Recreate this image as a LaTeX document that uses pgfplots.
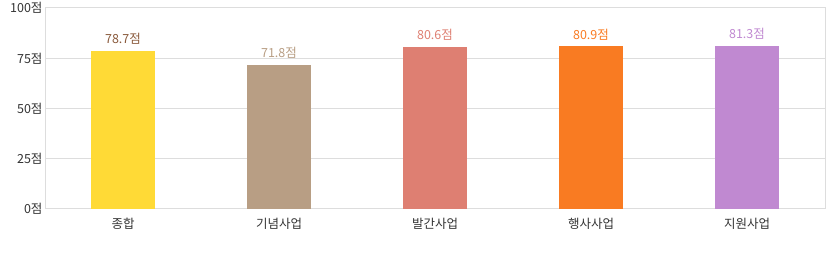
\documentclass[border=0pt]{standalone}
\usepackage{pgfplots}
\pgfplotsset{compat=1.18}
\usepackage{fontspec}
\setmainfont{Noto Sans CJK KR}
\definecolor{gridc}{HTML}{DDDDDD}
\definecolor{txt}{HTML}{333333}
\definecolor{c1}{HTML}{FFDA36}
\definecolor{l1}{HTML}{8A5A3C}
\definecolor{c2}{HTML}{B89E84}
\definecolor{c3}{HTML}{DE7F72}
\definecolor{c4}{HTML}{F97B22}
\definecolor{c5}{HTML}{C089D1}
\begin{document}
\begin{tikzpicture}[x=1pt,y=1pt]
\useasboundingbox (0,0) rectangle (830,272);
\begin{axis}[
  at={(45pt,63pt)}, anchor=south west,
  scale only axis, width=780pt, height=201pt,
  xmin=-0.5, xmax=4.5, ymin=0, ymax=100,
  ytick={0,25,50,75,100},
  yticklabel={\pgfmathprintnumber{\tick}점},
  xtick={0,1,2,3,4},
  xticklabels={종합,기념사업,발간사업,행사사업,지원사업},
  tick style={draw=none},
  axis line style={draw=gridc, line width=1pt},
  ymajorgrids, grid style={draw=gridc, line width=1pt},
  ticklabel style={text=txt, font=\fontsize{12.5}{14}\selectfont},
  yticklabel style={xshift=1pt},
  xticklabel style={yshift=-1pt},
  /pgf/number format/assume math mode=true,
  ybar, bar width=64pt, bar shift=0pt,
  nodes near coords={\pgfmathprintnumber[fixed,precision=1,fixed zerofill]{\pgfplotspointmeta}점},
  nodes near coords style={font=\fontsize{12.5}{14}\selectfont, yshift=3pt, /pgf/number format/assume math mode=true},
]
\addplot[fill=c1, draw=none, nodes near coords style={text=l1}] coordinates {(0,78.7)};
\addplot[fill=c2, draw=none, nodes near coords style={text=c2}] coordinates {(1,71.8)};
\addplot[fill=c3, draw=none, nodes near coords style={text=c3}] coordinates {(2,80.6)};
\addplot[fill=c4, draw=none, nodes near coords style={text=c4}] coordinates {(3,80.9)};
\addplot[fill=c5, draw=none, nodes near coords style={text=c5}] coordinates {(4,81.3)};
\end{axis}
\end{tikzpicture}
\end{document}
